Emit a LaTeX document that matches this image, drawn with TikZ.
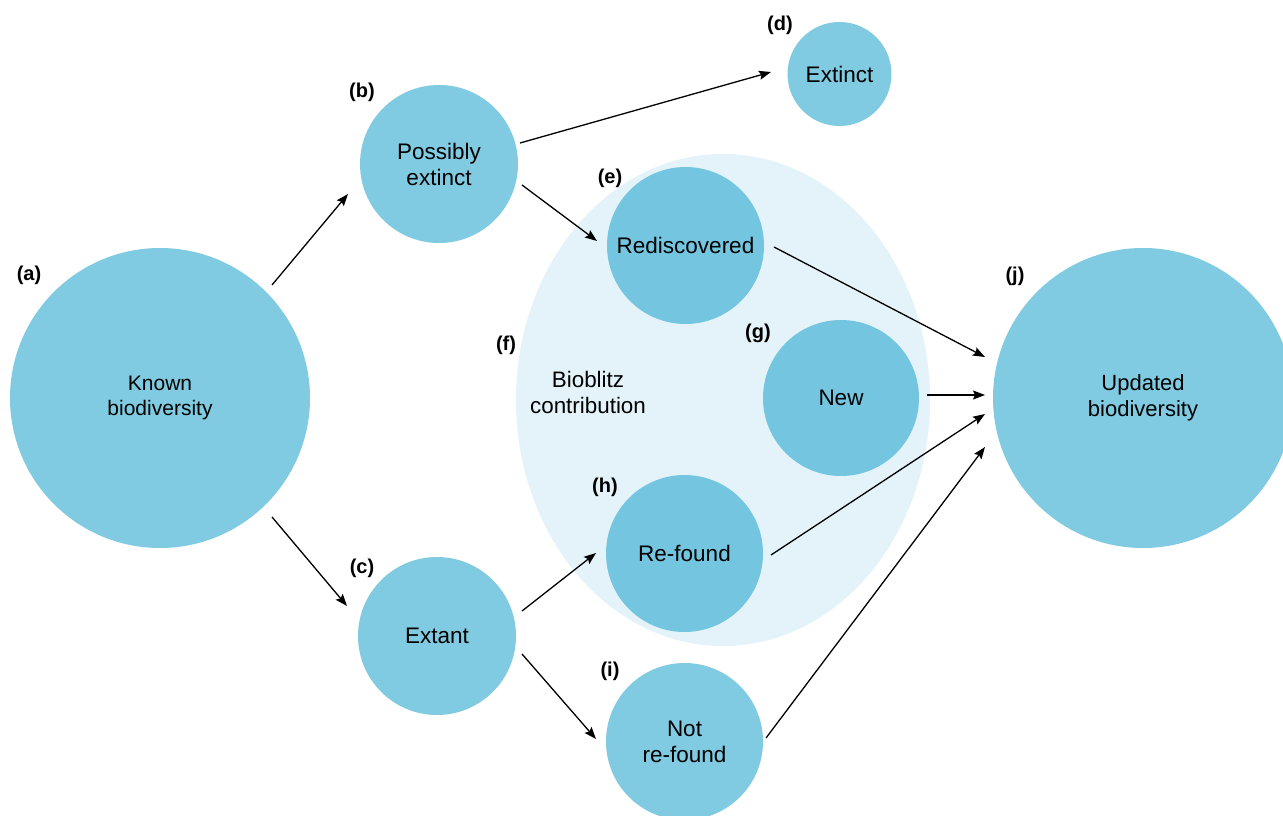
\documentclass[tikz,border=0pt]{standalone}
\usepackage{fontspec}
\setmainfont{Liberation Sans}
\usetikzlibrary{arrows.meta,calc,shapes.geometric}
\definecolor{circA}{HTML}{80CBE1}
\definecolor{circB}{HTML}{74C5DF}
\definecolor{ellC}{HTML}{E3F3F9}
\begin{document}
\begin{tikzpicture}[x=1pt,y=-1pt,
  bub/.style={circle,fill=circA,inner sep=0pt,align=center,font=\fontsize{22.5}{26}\selectfont},
  inbub/.style={bub,fill=circB},
  lab/.style={inner sep=0pt,font=\fontsize{20}{24}\selectfont\bfseries},
  txt/.style={inner sep=0pt,align=center,font=\fontsize{22.4}{26}\selectfont},
  arr/.style={-{Stealth[length=12pt,width=9pt,inset=2pt]},line width=1.3pt}]
\useasboundingbox (0,0) rectangle (1283,816);
\fill[white] (0,0) rectangle (1283,816);
% Bioblitz contribution area
\node[ellipse,fill=ellC,minimum width=414pt,minimum height=492pt,inner sep=0pt] (f) at (723,400) {};
% circles
\node[bub,minimum size=300pt,font=\fontsize{21}{25}\selectfont] (a) at (160,398) {Known\\biodiversity};
\node[bub,minimum size=158pt] (b) at (439,164) {Possibly\\extinct};
\node[bub,minimum size=158pt] (c) at (437,636) {Extant};
\node[bub,minimum size=104pt] (d) at (839.5,74) {Extinct};
\node[inbub,minimum size=157pt] (e) at (685.5,245.5) {Rediscovered};
\node[inbub,minimum size=156pt] (g) at (841,398) {New};
\node[inbub,minimum size=157pt] (h) at (684.5,553.5) {Re-found};
\node[bub,minimum size=157pt] (i) at (684.5,741.5) {Not\\re-found};
\node[bub,minimum size=300pt,font=\fontsize{22}{25.5}\selectfont] (j) at (1143,398) {Updated\\biodiversity};
\node[txt] (ft) at (588,392) {Bioblitz\\contribution};
% labels
\node[lab] (la) at (29,275) {(a)};
\node[lab] (lb) at (362,92) {(b)};
\node[lab] (lc) at (362,568) {(c)};
\node[lab] (ld) at (780,25) {(d)};
\node[lab] (le) at (610,178) {(e)};
\node[lab] (lf) at (506,345) {(f)};
\node[lab] (lg) at (758,333) {(g)};
\node[lab] (lh) at (605,487) {(h)};
\node[lab] (li) at (610,671) {(i)};
\node[lab] (lj) at (1015,276) {(j)};
% connectors
\draw[arr] ($(a)+(112,-113)$) -- ($(b)+(-91,30)$);
\draw[arr] ($(a)+(112,119)$) -- ($(c)+(-90,-30)$);
\draw[arr] ($(b)+(81,-21)$) -- ($(d)+(-68.5,-2)$);
\draw[arr] ($(b)+(83,21)$) -- ($(e)+(-88.5,-4.5)$);
\draw[arr] ($(c)+(85,-25)$) -- ($(h)+(-88.5,-0.5)$);
\draw[arr] ($(c)+(85,18)$) -- ($(i)+(-88.5,-2.5)$);
\draw[arr] ($(e)+(88.5,1.5)$) -- ($(j)+(-158,-41)$);
\draw[arr] ($(g)+(86,-3)$) -- ($(j)+(-158,-3)$);
\draw[arr] ($(h)+(86.5,1.5)$) -- ($(j)+(-158,16)$);
\draw[arr] ($(i)+(81.5,-3.5)$) -- ($(j)+(-158,49)$);
\end{tikzpicture}
\end{document}
